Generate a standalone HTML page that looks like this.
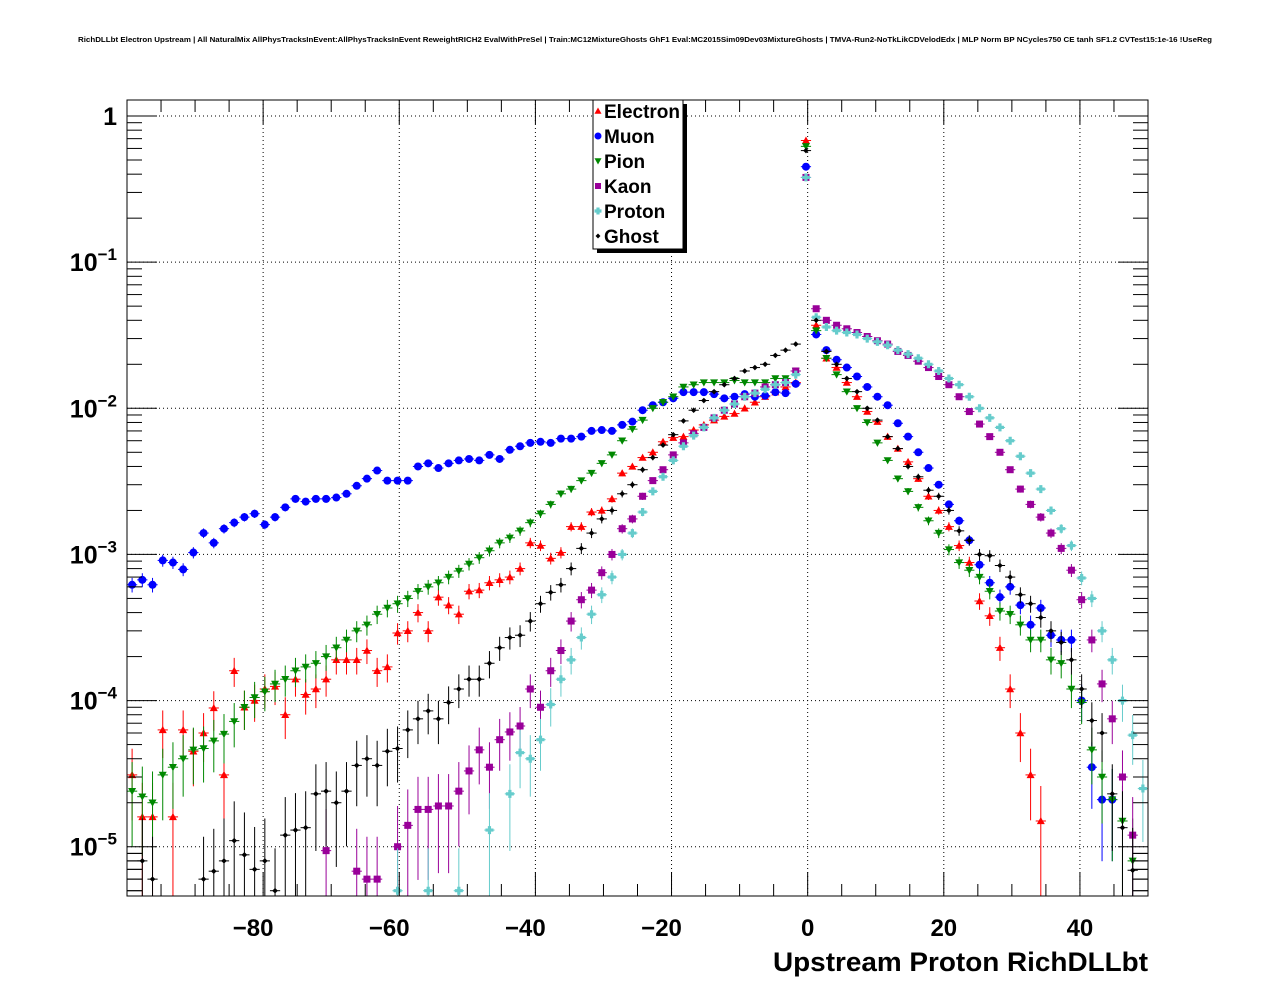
<!DOCTYPE html>
<html><head><meta charset="utf-8"><style>
html,body{margin:0;padding:0;background:#fff;}
svg{display:block;font-family:"Liberation Sans",Arial,sans-serif;}
</style></head><body>
<svg id="chart" width="1276" height="996" viewBox="0 0 1276 996" xmlns="http://www.w3.org/2000/svg">
<rect x="0" y="0" width="1276" height="996" fill="#fff"/>
<text x="78" y="42" textLength="1134" lengthAdjust="spacingAndGlyphs" font-size="7.6" font-weight="bold">RichDLLbt Electron Upstream | All NaturalMix AllPhysTracksInEvent:AllPhysTracksInEvent ReweightRICH2 EvalWithPreSel | Train:MC12MixtureGhosts GhF1 Eval:MC2015Sim09Dev03MixtureGhosts | TMVA-Run2-NoTkLikCDVelodEdx | MLP Norm BP NCycles750 CE tanh SF1.2 CVTest15:1e-16 !UseReg</text>
<g id="grid"></g>
<g id="marks"></g>
<rect x="127" y="100" width="1021" height="796" fill="none" stroke="#000" stroke-width="1"/>
<g id="axes"></g>
<text x="1148" y="971" text-anchor="end" textLength="375" lengthAdjust="spacingAndGlyphs" font-size="27" font-weight="bold">Upstream Proton RichDLLbt</text>
<g id="legend"></g>
</svg>
<script>
const xTicks=[-80,-60,-40,-20,0,20,40];
const yDecades=[0,-1,-2,-3,-4,-5];
const seriesNames=["Electron","Muon","Pion","Kaon","Proton","Ghost"];
const N=null;
const electron=[3.1e-5,1.6e-5,1.6e-5,6.3e-5,1.6e-5,6.3e-5,4.5e-5,6e-5,8.9e-5,3.1e-5,1.6e-4,9e-5,1e-4,1.2e-4,1.25e-4,8e-5,1.4e-4,1.1e-4,1.2e-4,1.4e-4,1.9e-4,1.9e-4,1.9e-4,2.2e-4,1.6e-4,1.7e-4,2.9e-4,3.0e-4,4.0e-4,3.0e-4,5.1e-4,4.5e-4,3.9e-4,5.6e-4,5.7e-4,6.4e-4,6.7e-4,7.0e-4,8.0e-4,1.2e-3,1.15e-3,9.4e-4,1.03e-3,1.55e-3,1.55e-3,1.95e-3,2.0e-3,2.4e-3,3.6e-3,4.0e-3,4.6e-3,5.0e-3,5.9e-3,6.3e-3,6.4e-3,7.1e-3,7.7e-3,8.3e-3,8.8e-3,9.2e-3,1.0e-2,1.1e-2,1.2e-2,1.29e-2,1.4e-2,1.5e-2,0.68,3.7e-2,2.2e-2,1.9e-2,1.5e-2,1.2e-2,9.5e-3,8.1e-3,6.4e-3,5.3e-3,4.3e-3,3.3e-3,2.5e-3,2.0e-3,1.55e-3,1.15e-3,8.8e-4,4.8e-4,3.8e-4,2.3e-4,1.2e-4,6.0e-5,3.1e-5,1.5e-5,N,N,N,N,N,N,N,N,N,N];
const muon=[6.2e-4,6.7e-4,6.2e-4,9.1e-4,8.8e-4,7.9e-4,1.03e-3,1.4e-3,1.2e-3,1.5e-3,1.65e-3,1.8e-3,1.9e-3,1.6e-3,1.8e-3,2.1e-3,2.4e-3,2.3e-3,2.4e-3,2.4e-3,2.45e-3,2.6e-3,2.95e-3,3.3e-3,3.75e-3,3.2e-3,3.2e-3,3.2e-3,4.0e-3,4.2e-3,3.9e-3,4.2e-3,4.4e-3,4.5e-3,4.4e-3,4.8e-3,4.5e-3,5.2e-3,5.5e-3,5.8e-3,5.9e-3,5.8e-3,6.2e-3,6.2e-3,6.4e-3,7.0e-3,7.1e-3,7.0e-3,7.7e-3,8.1e-3,9.7e-3,1.05e-2,1.1e-2,1.17e-2,1.29e-2,1.29e-2,1.29e-2,1.25e-2,1.17e-2,1.2e-2,1.25e-2,1.2e-2,1.22e-2,1.29e-2,1.27e-2,1.47e-2,0.45,3.2e-2,2.5e-2,2.15e-2,1.9e-2,1.65e-2,1.4e-2,1.2e-2,1.05e-2,7.9e-3,6.4e-3,5.0e-3,3.9e-3,3.0e-3,2.2e-3,1.7e-3,1.25e-3,8.5e-4,6.4e-4,5.1e-4,6.0e-4,4.5e-4,3.3e-4,4.3e-4,2.8e-4,2.6e-4,2.6e-4,1.0e-4,3.5e-5,2.1e-5,2.1e-5,N,N,N];
const pion=[2.4e-5,2.2e-5,2.0e-5,3.1e-5,3.5e-5,4.0e-5,4.6e-5,4.7e-5,5.3e-5,5.9e-5,7.2e-5,9.0e-5,1.05e-4,1.15e-4,1.3e-4,1.4e-4,1.6e-4,1.7e-4,1.8e-4,2.0e-4,2.3e-4,2.6e-4,3.0e-4,3.3e-4,3.9e-4,4.3e-4,4.6e-4,5.0e-4,5.6e-4,6.0e-4,6.4e-4,7.0e-4,7.7e-4,8.6e-4,9.5e-4,1.06e-3,1.2e-3,1.3e-3,1.45e-3,1.65e-3,1.9e-3,2.2e-3,2.6e-3,2.8e-3,3.2e-3,3.6e-3,4.2e-3,4.8e-3,6.0e-3,7.2e-3,8.3e-3,1.0e-2,1.1e-2,1.2e-2,1.4e-2,1.45e-2,1.5e-2,1.5e-2,1.5e-2,1.55e-2,1.5e-2,1.5e-2,1.5e-2,1.6e-2,1.6e-2,1.8e-2,0.62,3.4e-2,2.2e-2,1.7e-2,1.3e-2,1.0e-2,8e-3,5.8e-3,4.4e-3,3.3e-3,2.7e-3,2.1e-3,1.7e-3,1.4e-3,1.08e-3,8.8e-4,7.8e-4,7.0e-4,5.6e-4,4.1e-4,3.9e-4,3.3e-4,2.6e-4,2.6e-4,1.9e-4,1.8e-4,1.2e-4,9.7e-5,4.6e-5,3.0e-5,2.1e-5,1.5e-5,8e-6,N];
const kaon=[N,N,N,N,N,N,N,N,N,N,N,N,N,N,N,N,N,N,N,9.4e-6,N,N,6.8e-6,6e-6,6e-6,N,1.0e-5,1.4e-5,1.8e-5,1.8e-5,1.9e-5,1.9e-5,2.4e-5,3.3e-5,4.6e-5,3.5e-5,5.4e-5,6.1e-5,6.7e-5,1.2e-4,9e-5,1.6e-4,2.2e-4,3.5e-4,4.9e-4,5.7e-4,7.5e-4,1.0e-3,1.5e-3,1.75e-3,2.5e-3,3.2e-3,3.8e-3,4.8e-3,5.8e-3,6.7e-3,7.4e-3,8.6e-3,9.7e-3,1.07e-2,1.2e-2,1.27e-2,1.4e-2,1.45e-2,1.5e-2,1.8e-2,0.38,4.8e-2,4.0e-2,3.7e-2,3.5e-2,3.3e-2,3.1e-2,2.9e-2,2.75e-2,2.45e-2,2.3e-2,2.1e-2,1.9e-2,1.65e-2,1.45e-2,1.2e-2,9.5e-3,7.8e-3,6.4e-3,5.0e-3,3.8e-3,2.8e-3,2.2e-3,1.8e-3,1.4e-3,1.1e-3,7.8e-4,4.9e-4,2.6e-4,1.3e-4,7.5e-5,3.0e-5,1.2e-5,N];
const proton=[N,N,N,N,N,N,N,N,N,N,N,N,N,N,N,N,N,N,N,N,N,N,N,N,N,N,5e-6,N,N,5e-6,N,N,5e-6,N,N,1.3e-5,N,2.3e-5,4.4e-5,4e-5,5.4e-5,9.4e-5,1.4e-4,1.9e-4,2.7e-4,3.9e-4,5.3e-4,7e-4,1.0e-3,1.4e-3,1.95e-3,2.7e-3,3.4e-3,4.4e-3,5.5e-3,6.5e-3,7.4e-3,8.6e-3,9.7e-3,1.07e-2,1.2e-2,1.27e-2,1.35e-2,1.45e-2,1.5e-2,1.7e-2,0.38,4.2e-2,3.6e-2,3.4e-2,3.3e-2,3.2e-2,3.0e-2,2.85e-2,2.7e-2,2.5e-2,2.35e-2,2.2e-2,2.0e-2,1.8e-2,1.6e-2,1.45e-2,1.2e-2,1.0e-2,8.6e-3,7.4e-3,6.0e-3,4.7e-3,3.6e-3,2.8e-3,2.0e-3,1.5e-3,1.15e-3,6.9e-4,5.0e-4,3.0e-4,1.9e-4,1e-4,5.8e-5,2.5e-5];
const ghost=[N,8.0e-6,6e-6,N,N,N,N,6e-6,6.8e-6,8e-6,1.1e-5,8.8e-6,7e-6,8e-6,5e-6,1.2e-5,1.3e-5,1.35e-5,2.3e-5,2.4e-5,2.0e-5,2.4e-5,3.6e-5,4.0e-5,3.6e-5,4.5e-5,4.7e-5,6.3e-5,7.5e-5,8.5e-5,7.5e-5,9.7e-5,1.2e-4,1.4e-4,1.4e-4,1.8e-4,2.3e-4,2.7e-4,2.8e-4,3.5e-4,4.6e-4,5.5e-4,6.2e-4,8.0e-4,1.1e-3,1.4e-3,1.75e-3,2.0e-3,2.6e-3,3.0e-3,3.8e-3,4.6e-3,5.6e-3,6.6e-3,8.2e-3,9.7e-3,1.13e-2,1.3e-2,1.45e-2,1.6e-2,1.8e-2,1.9e-2,2.0e-2,2.3e-2,2.5e-2,2.75e-2,0.58,4.0e-2,2.45e-2,2.0e-2,1.6e-2,1.3e-2,1.0e-2,8.3e-3,6.4e-3,5.3e-3,4.0e-3,3.4e-3,2.75e-3,2.5e-3,2.0e-3,1.45e-3,1.25e-3,1.0e-3,9.8e-4,8.4e-4,7.0e-4,5.3e-4,4.6e-4,3.7e-4,3.0e-4,2.5e-4,1.9e-4,1.2e-4,7.3e-5,6e-5,2.3e-5,1.35e-5,6.9e-6,N];
const seriesData=[electron,muon,pion,kaon,proton,ghost];
const colors=["#ff0000","#0000ff","#008800","#990099","#66cccc","#000000"];
const markerTypes=["tri-up","circle","tri-down","square","cross","diamond"];

const X0=127,X1=1148,Y0=100,Y1=896;
const xMin=-100,xMax=50,yTopLog=Math.log10(1.287),yBotLog=Math.log10(4.6e-6);
const xs=v=>X0+(v-xMin)/(xMax-xMin)*(X1-X0);
const ys=v=>Y0+(yTopLog-Math.log10(v))/(yTopLog-yBotLog)*(Y1-Y0);
const nBins=100,bw=(xMax-xMin)/nBins;
const NS="http://www.w3.org/2000/svg";
function mk(tag,attrs,parent){const e=document.createElementNS(NS,tag);for(const k in attrs)e.setAttribute(k,attrs[k]);parent.appendChild(e);return e;}
const grid=document.getElementById('grid'),axes=document.getElementById('axes'),marks=document.getElementById('marks'),legend=document.getElementById('legend');

xTicks.forEach(t=>{
  const l=mk('line',{x1:xs(t),x2:xs(t),y1:Y0,y2:Y1,stroke:'#000','stroke-width':1,'stroke-dasharray':'1,3'},grid);
  
  
  mk('line',{x1:xs(t),x2:xs(t),y1:Y1,y2:Y1-24,stroke:'#000'},axes);
  mk('line',{x1:xs(t),x2:xs(t),y1:Y0,y2:Y0+24,stroke:'#000'},axes);
  const tx=mk('text',{x:xs(t)-(t<0?10:0),y:936,'text-anchor':'middle','font-size':24,'font-weight':'bold'},axes);
  tx.textContent=t<0?'\u2212'+Math.abs(t):String(t);
  
  
});
for(let v=-100;v<=50;v+=5){if(v%20===0&&v>-100)continue;
  mk('line',{x1:xs(v),x2:xs(v),y1:Y1,y2:Y1-12,stroke:'#000'},axes);
  mk('line',{x1:xs(v),x2:xs(v),y1:Y0,y2:Y0+12,stroke:'#000'},axes);}
yDecades.forEach(d=>{
  const y=ys(Math.pow(10,d));
  const l=mk('line',{x1:X0,x2:X1,y1:y,y2:y,stroke:'#000','stroke-width':1,'stroke-dasharray':'1,3'},grid);
  
  
  mk('line',{x1:X0,x2:X0+30,y1:y,y2:y,stroke:'#000'},axes);
  mk('line',{x1:X1,x2:X1-30,y1:y,y2:y,stroke:'#000'},axes);
  for(let m=2;m<=9;m++){const yy=ys(m*Math.pow(10,d-1));if(yy<=Y1&&yy>=Y0){
    mk('line',{x1:X0,x2:X0+15,y1:yy,y2:yy,stroke:'#000'},axes);mk('line',{x1:X1,x2:X1-15,y1:yy,y2:yy,stroke:'#000'},axes);}}
  const tx=mk('text',{x:117,y:y+9,'text-anchor':'end','font-size':25,'font-weight':'bold'},axes);
  
  
  if(d===0){tx.textContent='1';}
  else{tx.textContent='10';const s=mk('tspan',{dy:-11,'font-size':17},tx);s.textContent='\u2212'+Math.abs(d);}
});
for(let m=2;m<=9;m++){const yy=ys(m*1e-6);if(yy<=Y1){mk('line',{x1:X0,x2:X0+15,y1:yy,y2:yy,stroke:'#000'},axes);mk('line',{x1:X1,x2:X1-15,y1:yy,y2:yy,stroke:'#000'},axes);}}

function marker(type,cx,cy,col,parent,s){
  s=s||4;let e;
  if(type==='circle')e=mk('circle',{cx,cy,r:s,fill:col},parent);
  else if(type==='square')e=mk('rect',{x:cx-s+0.5,y:cy-s+0.5,width:2*s-1,height:2*s-1,fill:col},parent);
  else if(type==='tri-up')e=mk('polygon',{points:`${cx-s},${cy+s*0.8} ${cx+s},${cy+s*0.8} ${cx},${cy-s}`,fill:col},parent);
  else if(type==='tri-down')e=mk('polygon',{points:`${cx-s},${cy-s*0.8} ${cx+s},${cy-s*0.8} ${cx},${cy+s}`,fill:col},parent);
  else if(type==='cross')e=mk('path',{d:`M${cx-s},${cy-1.6}h${s-1.6}v-${s-1.6}h3.2v${s-1.6}h${s-1.6}v3.2h-${s-1.6}v${s-1.6}h-3.2v-${s-1.6}h-${s-1.6}z`,fill:col},parent);
  else e=mk('polygon',{points:`${cx-s*0.7},${cy} ${cx},${cy-s*0.7} ${cx+s*0.7},${cy} ${cx},${cy+s*0.7}`,fill:col},parent);
  return e;
}
seriesData.forEach((arr,si)=>{
  const g=mk('g',{},marks);
  
  
  arr.forEach((v,i)=>{
    if(v==null)return;
    const c=xMin+(i+0.5)*bw,cx=xs(c),cy=ys(v);
    const rel=Math.min(0.95,Math.sqrt(1e-5/v)*0.9);
    const yHi=Math.max(Y0,ys(v*(1+rel))),yLo=Math.min(Y1,ys(v*(1-rel)));
    mk('line',{x1:xs(c-bw/2),x2:xs(c+bw/2),y1:cy,y2:cy,stroke:colors[si],'stroke-width':1},g);
    mk('line',{x1:cx,x2:cx,y1:yHi,y2:yLo,stroke:colors[si],'stroke-width':1},g);
    const m=marker(markerTypes[si],cx,cy,colors[si],g);
    
    
  });
});
// legend
mk('rect',{x:597,y:104,width:90,height:149,fill:'#000'},legend);
mk('rect',{x:593,y:100,width:90,height:149,fill:'#fff',stroke:'#000'},legend);
seriesNames.forEach((n,i)=>{
  const y=111+i*25;
  const g=mk('g',{},legend);
  
  
  marker(markerTypes[i],598,y,colors[i],g,3.5);
  const t=mk('text',{x:604,y:y+7,'font-size':19,'font-weight':'bold'},g);
  t.textContent=n;
});
</script>
</body></html>
